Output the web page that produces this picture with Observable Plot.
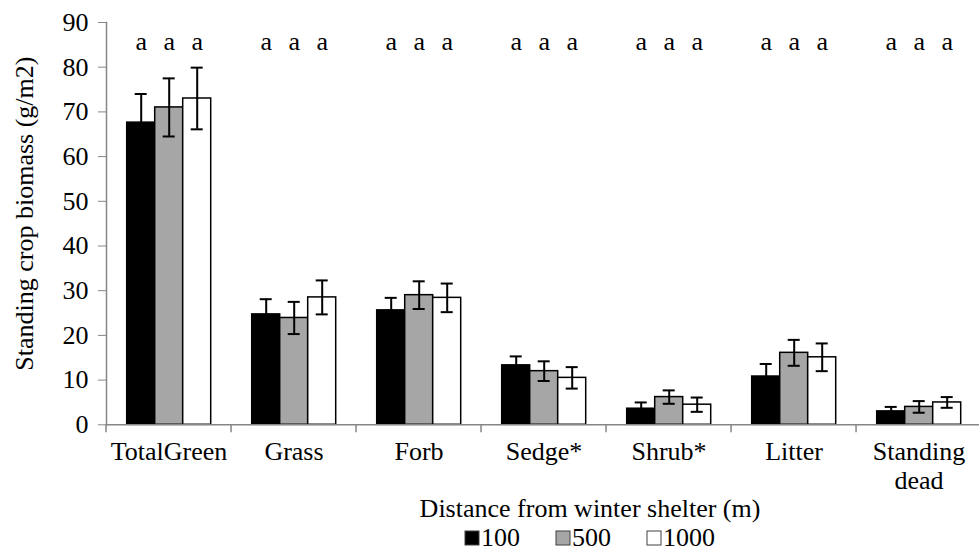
<!DOCTYPE html>
<html>
<head>
<meta charset="utf-8">
<script src="https://cdn.jsdelivr.net/npm/d3@7"></script>
<script src="https://cdn.jsdelivr.net/npm/@observablehq/plot@0.6"></script>
<style>
  html, body { margin: 0; padding: 0; background: #fff; overflow: hidden; }
  #chart { position: relative; width: 979px; height: 552px; font-family: "Liberation Serif", "Times New Roman", serif; color: #000; }
  #xtitle { position: absolute; left: 201px; width: 778px; top: 497px; height: 24px; text-align: center; font-size: 26px; line-height: 24px; }
  #legend { position: absolute; left: 201px; width: 778px; top: 528px; height: 20px; display: flex; justify-content: center; }
  .leg-swatches { font-family: "Liberation Serif", "Times New Roman", serif; font-size: 26px; line-height: 20px; height: 20px; min-height: 0 !important; margin: 0 !important; }
  .leg-swatch { margin-right: 36px !important; }
  .leg-swatch:last-child { margin-right: 0 !important; }
  .leg-swatch > svg { margin-right: 2px !important; }
  .leg-swatch > svg rect { stroke: #404040; stroke-width: 1px; }
</style>
</head>
<body>
<div id="chart">
  <div id="plot"></div>
  <div id="xtitle">Distance from winter shelter (m)</div>
  <div id="legend"></div>
</div>
<script>
// Standing crop biomass by forage class and distance from winter shelter
const categories = ["TotalGreen", "Grass", "Forb", "Sedge*", "Shrub*", "Litter", "Standing dead"];
const distances = ["100", "500", "1000"];

// Means (g/m2)
const mean100  = [67.6, 24.7, 25.6, 13.3, 3.6, 10.8, 3.0];
const mean500  = [71.0, 23.9, 29.0, 12.0, 6.2, 16.1, 4.0];
const mean1000 = [73.0, 28.5, 28.4, 10.5, 4.5, 15.1, 5.0];

// Standard errors (g/m2)
const err100  = [6.4, 3.4, 2.8, 2.0, 1.4, 2.8, 1.0];
const err500  = [6.5, 3.6, 3.1, 2.2, 1.5, 2.9, 1.3];
const err1000 = [6.9, 3.8, 3.2, 2.4, 1.6, 3.1, 1.2];

// Significance groupings
const letters100  = ["a", "a", "a", "a", "a", "a", "a"];
const letters500  = ["a", "a", "a", "a", "a", "a", "a"];
const letters1000 = ["a", "a", "a", "a", "a", "a", "a"];

const yTicks = [0, 10, 20, 30, 40, 50, 60, 70, 80, 90];
const yTitle = "Standing crop biomass (g/m2)";

const fills = ["#000000", "#a6a6a6", "#ffffff"];
const axisGray = "#868686";

const means = [mean100, mean500, mean1000];
const errs = [err100, err500, err1000];
const letters = [letters100, letters500, letters1000];

const rows = categories.flatMap((c, i) =>
  distances.map((d, j) => ({
    category: c,
    distance: d,
    mean: means[j][i],
    err: errs[j][i],
    letter: letters[j][i]
  }))
);

const W = 979, H = 496;
const marginLeft = 102.3, marginRight = -4.7, marginTop = 22, marginBottom = H - 424.3;
const step = (W - marginLeft - marginRight) / categories.length;

const chart = Plot.plot({
  width: W,
  height: H,
  marginLeft, marginRight, marginTop, marginBottom,
  style: { fontFamily: "'Liberation Serif', 'Times New Roman', serif", fontSize: "26px", color: "#000", background: "#fff", overflow: "hidden" },
  fx: { domain: categories, padding: 0, label: null },
  x: { domain: distances, paddingInner: 0, paddingOuter: 0.722, axis: null },
  y: { domain: [0, 90], axis: null },
  color: { domain: distances, range: fills },
  marks: [
    Plot.barY(rows, { fx: "category", x: "distance", y: "mean", fill: "distance", stroke: "#000", strokeWidth: 1.5 }),
    Plot.ruleX(rows, { fx: "category", x: "distance", y1: d => d.mean - d.err, y2: d => d.mean + d.err, stroke: "#000", strokeWidth: 2 }),
    Plot.tickY(rows, { fx: "category", x: "distance", y: d => d.mean + d.err, inset: 8, stroke: "#000", strokeWidth: 2 }),
    Plot.tickY(rows, { fx: "category", x: "distance", y: d => d.mean - d.err, inset: 8, stroke: "#000", strokeWidth: 2 }),
    Plot.text(rows, { fx: "category", x: "distance", text: "letter", frameAnchor: "top", dy: 9, fill: "#000" }),
    Plot.ruleY([0], { stroke: axisGray, strokeWidth: 1.5 }),
    Plot.frame({ anchor: "left", stroke: axisGray, strokeWidth: 1.5, facetAnchor: "left" }),
    Plot.axisY({ ticks: yTicks, tickSize: 8, tickPadding: 10, stroke: axisGray, label: null }),
    Plot.text([yTitle], { frameAnchor: "left", textAnchor: "middle", rotate: -90, dx: -82, dy: -10, facetAnchor: "left", fill: "#000" }),
    Plot.axisFx({ anchor: "bottom", tickSize: 0, tickPadding: 15, lineWidth: 5, lineHeight: 1.1, label: null }),
    Plot.axisFx({ anchor: "bottom", tickSize: 8, tickFormat: null, dx: -step / 2, stroke: axisGray, strokeWidth: 1.5, label: null })
  ]
});
document.getElementById("plot").appendChild(chart);

const legend = Plot.legend({
  color: { domain: distances, range: fills },
  legend: "swatches",
  swatchSize: 14,
  className: "leg"
});
document.getElementById("legend").appendChild(legend);
</script>
</body>
</html>
